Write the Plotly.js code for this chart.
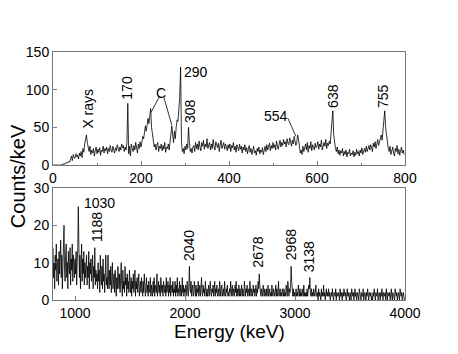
<!DOCTYPE html>
<html><head><meta charset="utf-8">
<script src="https://cdn.plot.ly/plotly-3.0.1.min.js"></script>
<style>html,body{margin:0;padding:0;background:#fff}#chart{width:458px;height:354px}</style>
</head><body><div id="chart"></div>
<script>
// Top panel: 2 keV bins starting at 0 keV
const lowStart = 0, lowStep = 2;
const lowCounts = [
 0,0,0,0,0,0,0,0,0,0,1,0,2,1,3,2,4,3,5,4,
 8,12,6,14,10,9,15,11,13,8,16,12,18,10,22,17,28,35,40,30,
 22,18,25,14,20,16,22,12,19,24,15,21,17,23,13,20,18,25,16,22,
 19,24,15,22,18,26,20,17,25,21,16,23,19,27,22,18,24,20,28,23,
 26,18,24,20,30,82,15,25,12,28,22,18,26,20,30,24,16,28,22,31,
 24,30,38,35,48,52,45,58,62,55,68,75,50,40,32,24,28,20,26,30,
 18,25,22,28,19,26,21,30,17,24,22,28,20,30,38,52,40,30,45,35,
 50,60,58,70,90,130,30,18,22,15,25,20,28,22,50,30,18,22,16,24,
 26,18,30,22,28,20,32,24,19,30,25,33,21,28,24,35,22,27,30,20,
 28,22,34,25,20,31,26,23,29,18,27,33,22,26,30,21,28,24,19,27,
 22,28,18,26,23,30,20,25,17,27,22,19,28,21,25,16,24,20,27,18,
 23,15,21,26,17,22,14,20,25,16,19,13,22,18,24,15,20,17,23,14,
 21,25,18,27,20,24,29,19,26,22,30,23,27,20,32,25,21,28,33,24,
 30,26,34,28,31,24,35,29,27,36,30,25,33,28,38,32,26,30,40,34,
 22,16,20,14,25,18,23,28,20,30,17,26,22,31,19,27,24,20,29,23,
 26,31,21,28,24,33,20,27,30,25,34,22,29,26,32,28,45,50,72,40,
 28,22,18,24,15,20,13,19,16,22,12,18,14,20,11,17,15,21,12,16,
 14,19,11,17,13,21,15,18,12,20,16,23,14,19,22,17,25,18,21,26,
 20,27,23,18,29,24,31,22,28,34,26,30,36,40,33,45,55,72,50,38,
 30,22,18,25,14,20,24,16,12,22,18,26,15,21,13,19,24,16,20,14
];
// Bottom panel: 5 keV bins starting at 800 keV
const highStart = 800, highStep = 5;
const highCounts = [
 14,6,10,3,12,8,15,5,9,11,4,13,7,10,16,6,12,3,9,14,
 20,8,5,12,15,6,10,3,13,9,7,14,4,11,8,15,5,12,9,6,
 11,7,13,4,10,14,25,8,6,12,3,9,15,5,11,7,13,4,10,6,
 8,12,4,9,6,13,3,10,7,11,5,8,12,3,9,6,14,4,8,5,
 7,3,10,5,8,2,12,6,4,9,3,11,5,7,2,8,12,4,6,3,
 12,5,3,8,4,9,2,6,10,3,5,7,2,8,4,1,6,3,9,5,
 3,7,2,6,10,4,1,8,3,5,2,9,4,6,1,7,3,5,2,8,
 4,2,6,1,5,3,7,2,4,8,1,5,3,6,2,4,7,1,3,5,
 2,6,3,1,5,2,7,4,1,3,6,2,4,1,5,3,2,6,1,4,
 3,1,5,2,6,1,4,3,2,7,1,3,5,2,4,1,6,3,2,4,
 1,5,3,2,4,1,6,2,3,5,1,4,2,6,1,3,4,2,5,1,
 3,2,5,1,4,2,6,1,3,2,5,1,4,3,1,6,2,4,1,3,
 2,4,1,3,5,2,1,4,9,3,2,5,1,3,4,1,2,5,3,1,
 4,1,3,2,5,1,2,4,1,3,6,2,1,4,2,3,1,5,2,1,
 3,1,2,4,1,3,5,2,1,3,2,4,1,2,5,1,3,2,4,1,
 2,3,1,5,2,1,3,4,1,2,3,1,5,2,1,3,2,4,1,2,
 1,3,2,5,1,2,4,1,3,2,1,4,2,5,1,3,1,2,4,1,
 3,1,2,4,1,3,2,1,5,2,1,3,2,4,1,2,3,1,5,2,
 1,3,2,1,4,2,3,1,2,4,1,3,2,5,3,7,4,2,1,3,
 2,1,4,2,1,3,2,1,3,1,2,4,1,2,3,1,2,1,4,2,
 1,3,2,1,2,4,1,3,1,2,5,1,2,3,1,2,1,3,2,1,
 3,1,2,1,4,2,1,5,2,1,3,2,4,9,5,2,1,3,1,2,
 1,2,3,1,2,1,4,2,1,3,1,2,1,3,2,1,4,1,2,1,
 2,1,3,1,2,4,3,6,2,1,3,1,2,1,3,2,1,2,4,1,
 1,2,0,3,1,2,1,0,3,1,2,1,4,1,2,0,1,3,1,2,
 1,3,1,2,0,1,2,1,3,1,0,2,1,1,3,0,2,1,1,2,
 1,0,3,1,2,1,0,2,1,3,1,1,2,0,1,3,1,2,1,0,
 2,1,0,3,1,1,2,0,1,3,1,2,0,1,2,1,0,3,1,1,
 0,2,1,1,3,0,1,2,1,0,2,1,3,1,0,2,1,1,2,0,
 1,0,2,1,3,1,0,2,1,1,3,0,1,2,1,0,2,1,3,1,
 0,2,1,1,2,0,3,1,0,2,1,1,2,0,1,3,1,0,2,1,
 1,0,3,1,1,2,0,1,2,1,0,3,1,1,2,0,1,2,1,0
];
const lowEnergy = lowCounts.map((_, i) => lowStart + i * lowStep);
const highEnergy = highCounts.map((_, i) => highStart + i * highStep);

// Peak labels
const lowLabels = ["X rays", "170", "C", "290", "308", "554", "638", "755"];
const lowLabelE = [80, 168, 245, 293, 311, 507, 636, 750];
const lowLabelY = [46, 84, 96, 123, 53, 65, 73, 73];
const lowLabelRot = [-90, -90, 0, 0, -90, 0, -90, -90];
const highLabels = ["1030", "1188", "2040", "2678", "2968", "3138"];
const highLabelE = [1063, 1200, 2035, 2664, 2964, 3127];
const highLabelY = [26, 15, 10, 8, 10, 7];
const highLabelRot = [0, -90, -90, -90, -90, -90];

const font = "Liberation Sans, Arial, sans-serif";
const traces = [
 {x: lowEnergy, y: lowCounts, type: "scatter", mode: "lines", line: {color: "#000", width: 0.8}, xaxis: "x", yaxis: "y", hoverinfo: "skip"},
 {x: highEnergy, y: highCounts, type: "scatter", mode: "lines", line: {color: "#000", width: 0.8}, xaxis: "x2", yaxis: "y2", hoverinfo: "skip"}
];

const annotations = [];
lowLabels.forEach((t, i) => {
  const rot = lowLabelRot[i];
  annotations.push({x: lowLabelE[i], y: lowLabelY[i], xref: "x", yref: "y", text: t, showarrow: false,
    textangle: rot, xanchor: rot ? "center" : (t === "290" ? "left" : "center"), yanchor: rot ? "bottom" : "middle",
    font: {family: font, size: 14, color: "#000"}});
});
highLabels.forEach((t, i) => {
  const rot = highLabelRot[i];
  annotations.push({x: highLabelE[i], y: highLabelY[i], xref: "x2", yref: "y2", text: t, showarrow: false,
    textangle: rot, xanchor: rot ? "center" : "left", yanchor: rot ? "bottom" : "middle",
    font: {family: font, size: 14, color: "#000"}});
});
annotations.push({x: -0.099, y: 0.5, xref: "paper", yref: "paper", text: "Counts/keV", textangle: -90, showarrow: false,
  font: {family: font, size: 20, color: "#000"}, xanchor: "center", yanchor: "middle"});
annotations.push({x: 0.5, y: -0.078, xref: "paper", yref: "paper", text: "Energy (keV)", showarrow: false,
  font: {family: font, size: 19, color: "#000"}, xanchor: "center", yanchor: "top"});

const ln = (x0, y0, x1, y1, xr, yr) => ({type: "line", x0, y0, x1, y1, xref: xr, yref: yr, line: {color: "#000", width: 0.8}});
const shapes = [
  ln(241, 90, 223, 70, "x", "y"),
  ln(252, 90, 270, 53, "x", "y"),
  ln(534, 62, 552, 38, "x", "y")
];

const axBase = {showline: true, linecolor: "#777", linewidth: 1, mirror: true, ticks: "inside", ticklen: 4, tickcolor: "#777",
  showgrid: false, zeroline: false, tickfont: {family: font, size: 14, color: "#000"}};

const layout = {
  width: 458, height: 354,
  margin: {l: 53, r: 53, t: 52, b: 54},
  paper_bgcolor: "#fff", plot_bgcolor: "#fff",
  showlegend: false,
  xaxis: Object.assign({}, axBase, {domain: [0, 1], range: [0, 800], tickvals: [0, 200, 400, 600, 800], anchor: "y",
    minor: {tickvals: [100, 300, 500, 700], ticks: "inside", ticklen: 2, tickcolor: "#777"}}),
  yaxis: Object.assign({}, axBase, {domain: [0.544, 1], range: [0, 150], tickvals: [0, 50, 100, 150], anchor: "x"}),
  xaxis2: Object.assign({}, axBase, {domain: [0, 1], range: [800, 4000], tickvals: [1000, 2000, 3000, 4000], anchor: "y2"}),
  yaxis2: Object.assign({}, axBase, {domain: [0, 0.452], range: [0, 30], tickvals: [0, 10, 20, 30], anchor: "x2"}),
  annotations, shapes
};
Plotly.newPlot("chart", traces, layout, {staticPlot: true, displayModeBar: false});
</script></body></html>
